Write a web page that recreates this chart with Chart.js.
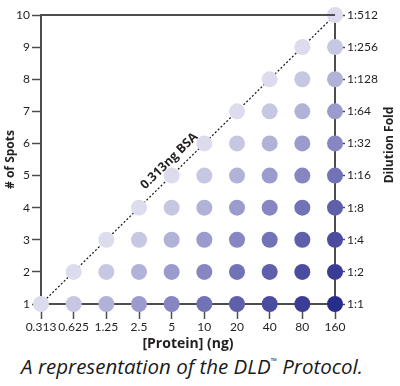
<!DOCTYPE html>
<html>
<head>
<meta charset="utf-8">
<script src="https://cdn.jsdelivr.net/npm/chart.js@4.4.1/dist/chart.umd.min.js"></script>
<style>
    html, body { margin: 0; padding: 0; background: #fff; }
    #wrap { position: relative; width: 400px; height: 352px; }
    .caption {
        position: absolute; left: -8px; top: 352px; width: 400px;
        text-align: center; font-family: 'Open Sans', sans-serif;
        font-style: italic; font-size: 20.5px; color: #1a1a1a; white-space: nowrap;
    }
    .caption sup { font-size: 8px; vertical-align: 10px; }
</style>
</head>
<body>
<div id="wrap"><canvas id="dldChart" width="400" height="352"></canvas></div>
<div class="caption">A representation of the DLD<sup>™</sup> Protocol.</div>
<script>
// x categories: protein loaded per spot (ng)
const proteinLabels = ['0.313', '0.625', '1.25', '2.5', '5', '10', '20', '40', '80', '160'];
// right axis: dilution fold for each spot number 1..10
const dilutionLabels = ['1:1', '1:2', '1:4', '1:8', '1:16', '1:32', '1:64', '1:128', '1:256', '1:512'];
// number of visible spots for each protein amount
const spotsPerAmount = [1, 2, 3, 4, 5, 6, 7, 8, 9, 10];
// 0.313ng BSA detection limit line
const limitLine = [{ x: '0.313', y: 1 }, { x: '160', y: 10 }];
// dot shade, lightest (0.313ng left in spot) to darkest (160ng)
const shadeColors = ['#dcdcee', '#c7c7e3', '#b2b1d8', '#9c9bcd', '#8786c2', '#7272b7', '#5f5fab', '#4b4ca0', '#3a3c96', '#282d8c'];

const textColor = '#231f20';
const axisColor = '#4d4d4d';

const dots = [];
const dotColors = [];
proteinLabels.forEach(function (amount, i) {
    for (let s = 1; s <= spotsPerAmount[i]; s++) {
        dots.push({ x: amount, y: s });
        dotColors.push(shadeColors[i - s + 1]);
    }
});

const extraText = {
    id: 'extraText',
    afterDraw(chart) {
        const ctx = chart.ctx;
        const area = chart.chartArea;
        const xs = chart.scales.x;
        const ys = chart.scales.y;

        // frame top line
        ctx.save();
        ctx.strokeStyle = axisColor;
        ctx.lineWidth = 2;
        ctx.beginPath();
        ctx.moveTo(area.left, area.top);
        ctx.lineTo(area.right, area.top);
        ctx.stroke();
        ctx.restore();

        // right axis title, reading bottom to top
        ctx.save();
        ctx.fillStyle = textColor;
        ctx.font = 'bold 12px "Open Sans"';
        ctx.textAlign = 'center';
        ctx.textBaseline = 'middle';
        ctx.translate(390, 145);
        ctx.rotate(-Math.PI / 2);
        ctx.fillText('Dilution Fold', 0, 0);
        ctx.restore();

        // label along the dotted line
        const x0 = xs.getPixelForValue(0), y0 = ys.getPixelForValue(1);
        const x1 = xs.getPixelForValue(9), y1 = ys.getPixelForValue(10);
        const ang = Math.atan2(y1 - y0, x1 - x0);
        const f = 0.465;
        const cx = x0 + (x1 - x0) * f + Math.sin(ang) * 12;
        const cy = y0 + (y1 - y0) * f - Math.cos(ang) * 12;
        ctx.save();
        ctx.fillStyle = textColor;
        ctx.font = 'bold 12.5px "Open Sans"';
        ctx.textAlign = 'center';
        ctx.textBaseline = 'middle';
        ctx.translate(cx, cy);
        ctx.rotate(ang);
        ctx.fillText('0.313ng BSA', 0, 0);
        ctx.restore();
    }
};

new Chart(document.getElementById('dldChart'), {
    type: 'line',
    data: {
        labels: proteinLabels,
        datasets: [{
            label: 'Spots',
            data: dots,
            showLine: false,
            pointRadius: 8,
            pointHoverRadius: 8,
            pointBorderWidth: 0,
            pointBackgroundColor: dotColors,
            clip: false
        }, {
            label: '0.313ng BSA',
            data: limitLine,
            borderColor: '#111',
            borderWidth: 1.2,
            borderDash: [2, 2],
            pointRadius: 0,
            tension: 0,
            clip: false
        }]
    },
    options: {
        responsive: false,
        animation: false,
        events: [],
        layout: { padding: { top: 15, left: 0, right: 0, bottom: 0 } },
        plugins: {
            legend: { display: false },
            tooltip: { enabled: false }
        },
        scales: {
            x: {
                type: 'category',
                offset: false,
                afterFit: function (scale) { scale.height = 48; },
                grid: {
                    drawOnChartArea: false,
                    tickLength: 15,
                    tickWidth: 1.5,
                    tickColor: axisColor
                },
                border: { color: axisColor, width: 2 },
                ticks: {
                    color: textColor,
                    padding: 1,
                    maxRotation: 0,
                    autoSkip: false,
                    font: { family: 'Lato', size: 12 }
                },
                title: {
                    display: true,
                    text: '[Protein] (ng)',
                    color: textColor,
                    font: { family: 'Open Sans', size: 14, weight: 'bold' },
                    padding: { top: 0, bottom: 0 }
                }
            },
            y: {
                min: 1,
                max: 10,
                afterFit: function (scale) { scale.width = 41; },
                grid: {
                    drawOnChartArea: false,
                    tickLength: 9,
                    tickWidth: 1.5,
                    tickColor: axisColor
                },
                border: { color: axisColor, width: 2 },
                ticks: {
                    stepSize: 1,
                    color: textColor,
                    padding: 2,
                    font: { family: 'Lato', size: 12 }
                },
                title: {
                    display: true,
                    text: '# of Spots',
                    color: textColor,
                    font: { family: 'Open Sans', size: 12, weight: 'bold' },
                    padding: { top: 3, bottom: 0 }
                }
            },
            y2: {
                position: 'right',
                min: 1,
                max: 10,
                afterFit: function (scale) { scale.width = 65; },
                grid: {
                    drawOnChartArea: false,
                    tickLength: 10,
                    tickWidth: 1.5,
                    tickColor: axisColor
                },
                border: { color: axisColor, width: 2 },
                ticks: {
                    stepSize: 1,
                    color: textColor,
                    padding: 2,
                    font: { family: 'Lato', size: 12 },
                    callback: function (v) { return dilutionLabels[v - 1]; }
                }
            }
        }
    },
    plugins: [extraText]
});
</script>
</body>
</html>
